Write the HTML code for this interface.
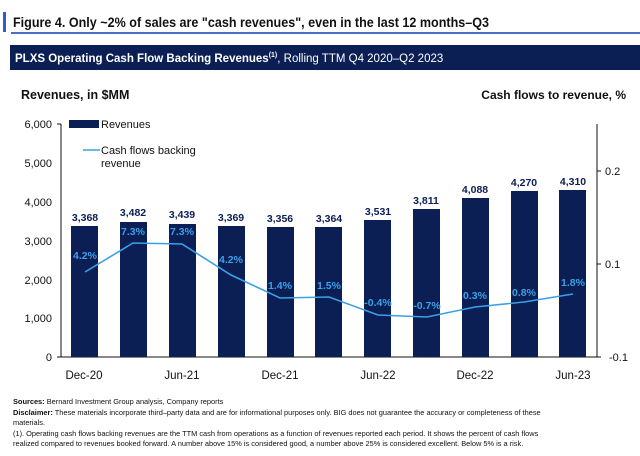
<!DOCTYPE html>
<html><head><meta charset="utf-8"><style>
body{margin:0;width:640px;height:451px;background:#fff;overflow:hidden;font-family:"Liberation Sans",sans-serif;}
</style></head><body>
<svg width="640" height="451" xmlns="http://www.w3.org/2000/svg" font-family="Liberation Sans, sans-serif">
<rect x="3" y="12" width="3" height="20" fill="#2f5fc4"/>
<text x="13" y="27" font-size="13.5" font-weight="bold" fill="#111" textLength="476" lengthAdjust="spacingAndGlyphs">Figure 4. Only ~2% of sales are "cash revenues", even in the last 12 months–Q3</text>
<rect x="11" y="32" width="629" height="2" fill="#4a6fc8"/>
<rect x="10" y="45" width="630" height="25" fill="#0b1f55"/>
<text x="15" y="62" font-size="11.5" fill="#fff"><tspan font-weight="bold">PLXS Operating Cash Flow Backing Revenues</tspan><tspan font-size="7" dy="-5" font-weight="bold">(1)</tspan><tspan dy="5">, Rolling TTM Q4 2020–Q2 2023</tspan></text>
<text x="21" y="99" font-size="12.5" font-weight="bold" fill="#111">Revenues, in $MM</text>
<text x="626" y="99" font-size="12" font-weight="bold" fill="#111" text-anchor="end">Cash flows to revenue, %</text>
<g font-size="11" fill="#111" text-anchor="end">
<text x="52" y="128">6,000</text><text x="52" y="167">5,000</text><text x="52" y="206">4,000</text><text x="52" y="245">3,000</text><text x="52" y="284">2,000</text><text x="52" y="322">1,000</text><text x="52" y="361">0</text>
</g>
<g stroke="#111" stroke-width="1">
<line x1="61" y1="124" x2="61" y2="357"/>
<line x1="57" y1="124" x2="61" y2="124"/>
<line x1="57" y1="357" x2="597" y2="357"/>
<line x1="597" y1="124" x2="597" y2="357"/>
<line x1="597" y1="171" x2="601" y2="171"/><line x1="597" y1="264" x2="601" y2="264"/><line x1="597" y1="357" x2="601" y2="357"/>
</g>
<g font-size="11" fill="#111">
<text x="605" y="175">0.2</text><text x="605" y="268">0.1</text><text x="609" y="361">-0.1</text>
</g>
<rect x="69" y="120" width="30" height="8" fill="#0b1f55"/>
<text x="101" y="128" font-size="11" fill="#111">Revenues</text>
<line x1="83" y1="150" x2="100" y2="150" stroke="#3aa0e8" stroke-width="1.5"/>
<text x="101" y="154" font-size="11" fill="#111">Cash flows backing</text>
<text x="101" y="167" font-size="11" fill="#111">revenue</text>
<g fill="#0b1f55">
<rect x="71" y="226" width="27" height="131"/>
<rect x="120" y="222" width="27" height="135"/>
<rect x="169" y="224" width="27" height="133"/>
<rect x="218" y="226" width="27" height="131"/>
<rect x="267" y="227" width="27" height="130"/>
<rect x="315" y="227" width="27" height="130"/>
<rect x="364" y="220" width="27" height="137"/>
<rect x="413" y="209" width="27" height="148"/>
<rect x="462" y="198" width="27" height="159"/>
<rect x="511" y="191" width="27" height="166"/>
<rect x="559" y="190" width="27" height="167"/>
</g>
<g font-size="10.5" font-weight="bold" fill="#0b1f55" text-anchor="middle">
<text x="85" y="221">3,368</text><text x="133" y="216">3,482</text><text x="182" y="218">3,439</text><text x="231" y="221">3,369</text><text x="280" y="222">3,356</text><text x="329" y="222">3,364</text><text x="378" y="215">3,531</text><text x="426" y="204">3,811</text><text x="475" y="193">4,088</text><text x="524" y="186">4,270</text><text x="573" y="185">4,310</text>
</g>
<polyline fill="none" stroke="#3aa0e8" stroke-width="1.6" points="85,272 133,243 182,244 231,275 280,298 329,297 378,315 427,317 475,307 524,302 573,294"/>
<g font-size="10.5" font-weight="bold" fill="#3aa0e8" text-anchor="middle">
<text x="85" y="259">4.2%</text><text x="133" y="235">7.3%</text><text x="182" y="235">7.3%</text><text x="231" y="263">4.2%</text><text x="280" y="289">1.4%</text><text x="329" y="289">1.5%</text><text x="378" y="306">-0.4%</text><text x="427" y="309">-0.7%</text><text x="475" y="299">0.3%</text><text x="524" y="296">0.8%</text><text x="573" y="286">1.8%</text>
</g>
<g font-size="11.5" fill="#111" text-anchor="middle">
<text x="84" y="379">Dec-20</text><text x="182" y="379">Jun-21</text><text x="280" y="379">Dec-21</text><text x="378" y="379">Jun-22</text><text x="475" y="379">Dec-22</text><text x="573" y="379">Jun-23</text>
</g>
<g font-size="7.4" fill="#111">
<text x="13" y="404"><tspan font-weight="bold">Sources:</tspan> Bernard Investment Group analysis, Company reports</text>
<text x="13" y="415"><tspan font-weight="bold">Disclaimer:</tspan> These materials incorporate third–party data and are for informational purposes only. BIG does not guarantee the accuracy or completeness of these</text>
<text x="13" y="425">materials.</text>
<text x="13" y="436">(1). Operating cash flows backing revenues are the TTM cash from operations as a function of revenues reported each period. It shows the percent of cash flows</text>
<text x="13" y="446">realized compared to revenues booked forward. A number above 15% is considered good, a number above 25% is considered excellent. Below 5% is a risk.</text>
</g>
</svg>
</body></html>
